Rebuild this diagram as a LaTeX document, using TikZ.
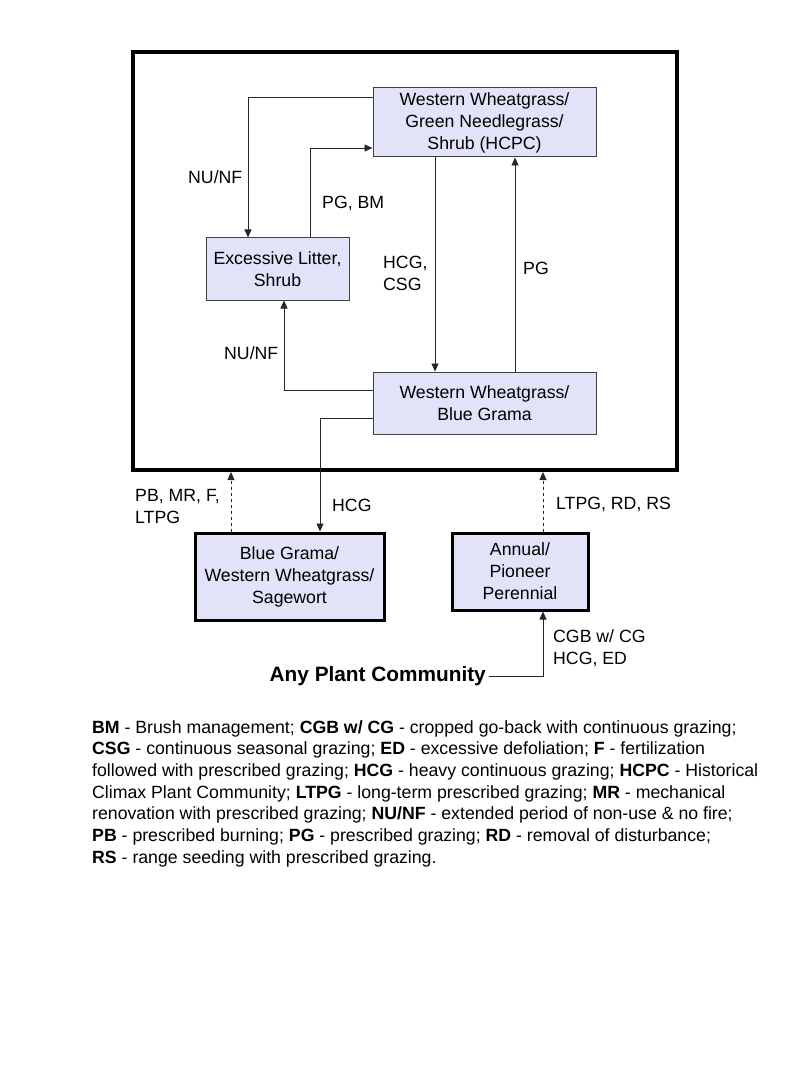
\documentclass[tikz,border=0pt]{standalone}
\usepackage{fontspec}
\setmainfont{Liberation Sans}
\usetikzlibrary{arrows.meta}
\definecolor{boxfill}{HTML}{E2E2F8}
\definecolor{boxline}{HTML}{404040}
\begin{document}
\begin{tikzpicture}[x=1pt,y=-1pt,
  every node/.style={font=\fontsize{17.7}{22}\selectfont, inner sep=0pt},
  state/.style={draw=boxline, fill=boxfill, line width=1pt, align=center},
  thickstate/.style={draw=black, fill=boxfill, line width=3pt, align=center},
  arr/.style={-{Triangle[length=8pt,width=7pt]}, line width=0.8pt, draw=black!85},
  lbl/.style={align=left, anchor=west}
]
\useasboundingbox (0,0) rectangle (800,1067);
\node[draw=black, line width=4pt, minimum width=544pt, minimum height=418pt] (outer) at (405,261) {};
\node[state, minimum width=223pt, minimum height=69pt] (hcpc) at (484.5,122.5) {Western Wheatgrass/\\Green Needlegrass/\\Shrub (HCPC)};
\node[state, minimum width=143pt, minimum height=62pt] (exl) at (277.5,269) {Excessive Litter,\\Shrub};
\node[state, minimum width=223pt, minimum height=62pt] (wwbg) at (484.5,403) {Western Wheatgrass/\\Blue Grama};
\node[thickstate, minimum width=189pt, minimum height=87pt] (bg) at (289.5,576.5) {Blue Grama/\\Western Wheatgrass/\\Sagewort};
\node[thickstate, minimum width=136pt, minimum height=77pt] (ann) at (520,571.5) {Annual/\\Pioneer\\Perennial};
\node[anchor=east, font=\fontsize{20.8}{24}\selectfont\bfseries] (any) at (486,676) {Any Plant Community};

\coordinate (b1) at (248,97);
\coordinate (b2) at (310,148);
\coordinate (b3) at (435,0);
\coordinate (b4) at (515,0);
\coordinate (b5) at (284,390);
\coordinate (b6) at (320,418);
\coordinate (b7) at (231,0);
\coordinate (b8) at (543,0);

\draw[arr] (hcpc.west |- b1) -- (b1) -- (exl.north -| b1);
\draw[arr] (exl.north -| b2) -- (b2) -- (hcpc.west |- b2);
\draw[arr] (hcpc.south -| b3) -- (wwbg.north -| b3);
\draw[arr] (wwbg.north -| b4) -- (hcpc.south -| b4);
\draw[arr] (wwbg.west |- b5) -- (b5) -- (exl.south -| b5);
\draw[arr] (wwbg.west |- b6) -- (b6) -- (bg.north -| b6);
\draw[arr, dashed] (bg.north -| b7) -- (outer.south -| b7);
\draw[arr, dashed] (ann.north -| b8) -- (outer.south -| b8);
\draw[arr] ([xshift=3pt]any.east) -- (any.east -| b8) -- (ann.south -| b8);

\node[lbl] (l1) at (188,177) {NU/NF};
\node[lbl] (l2) at (322,203) {PG, BM};
\node[lbl] (l3) at (383,273) {HCG,\\CSG};
\node[lbl] (l4) at (523,268) {PG};
\node[lbl] (l5) at (224,353) {NU/NF};
\node[lbl] (l6) at (332,505) {HCG};
\node[lbl] (l7) at (135,506) {PB, MR, F,\\LTPG};
\node[lbl] (l8) at (556,504) {LTPG, RD, RS};
\node[lbl] (l9) at (553,648) {CGB w/ CG\\HCG, ED};

\node[anchor=north west, align=left, font=\fontsize{17.7}{21.7}\selectfont] (legend) at (92,720) {%
\textbf{BM} - Brush management; \textbf{CGB w/ CG} - cropped go-back with continuous grazing;\\
\textbf{CSG} - continuous seasonal grazing; \textbf{ED} - excessive defoliation; \textbf{F} - fertilization\\
followed with prescribed grazing; \textbf{HCG} - heavy continuous grazing; \textbf{HCPC} - Historical\\
Climax Plant Community; \textbf{LTPG} - long-term prescribed grazing; \textbf{MR} - mechanical\\
renovation with prescribed grazing; \textbf{NU/NF} - extended period of non-use \& no fire;\\
\textbf{PB} - prescribed burning; \textbf{PG} - prescribed grazing; \textbf{RD} - removal of disturbance;\\
\textbf{RS} - range seeding with prescribed grazing.};
\end{tikzpicture}
\end{document}
